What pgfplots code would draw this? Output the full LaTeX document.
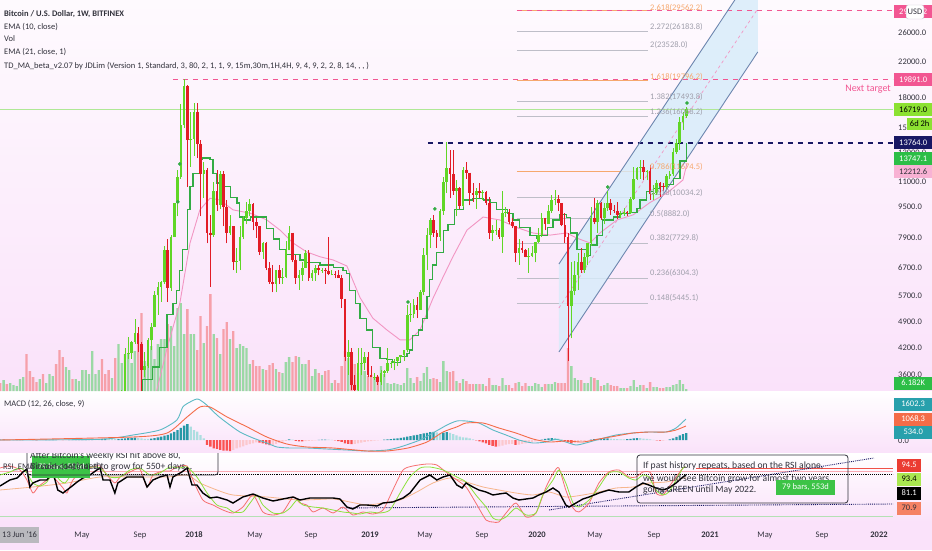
\documentclass[border=0pt]{standalone}
\usepackage{pgfplots}
\usepackage{pgfplotstable}
\pgfplotsset{compat=1.18}
\usepackage{fontspec}
\setmainfont{Carlito}

\definecolor{candup}{RGB}{96,214,38}
\definecolor{candown}{RGB}{226,28,38}
\definecolor{volup}{RGB}{155,216,165}
\definecolor{voldown}{RGB}{246,160,170}
\definecolor{stepgreen}{RGB}{50,172,68}
\definecolor{emapink}{RGB}{242,150,195}
\definecolor{chanline}{RGB}{110,135,175}
\definecolor{chanfill}{RGB}{214,236,250}
\definecolor{lvlpink}{RGB}{242,86,146}
\definecolor{lvlnavy}{RGB}{24,24,100}
\definecolor{curline}{RGB}{175,232,150}
\definecolor{fibgray}{RGB}{190,190,200}
\definecolor{fibtext}{RGB}{160,160,172}
\definecolor{fiborange}{RGB}{246,168,110}
\definecolor{macdline}{RGB}{92,186,196}
\definecolor{sigline}{RGB}{244,108,72}
\definecolor{hdark}{RGB}{38,152,166}
\definecolor{hlight}{RGB}{172,222,224}
\definecolor{hred}{RGB}{250,82,82}
\definecolor{hpink}{RGB}{252,200,206}
\definecolor{rsilime}{RGB}{140,226,60}
\definecolor{rsired}{RGB}{246,112,112}
\definecolor{rsiorange}{RGB}{246,182,140}
\definecolor{rsigreenline}{RGB}{180,225,180}
\definecolor{rsipinkline}{RGB}{250,170,180}
\definecolor{rsiredline}{RGB}{240,80,70}
\definecolor{txt}{RGB}{50,50,60}
\definecolor{bgtop}{RGB}{254,250,254}
\definecolor{bgbot}{RGB}{250,226,250}
\definecolor{boxgreen}{RGB}{44,190,70}
\definecolor{boxlime}{RGB}{140,225,50}
\definecolor{boxteal}{RGB}{40,160,172}
\definecolor{boxpink}{RGB}{248,178,212}
\definecolor{usdborder}{RGB}{200,200,210}
\definecolor{boxred}{RGB}{235,60,50}
\definecolor{boxlime2}{RGB}{170,232,80}
\definecolor{boxsalmon}{RGB}{245,130,100}
\definecolor{callgreen}{RGB}{60,195,70}
\definecolor{dategray}{RGB}{185,185,190}

\newcommand{\sz}{\fontsize{8.5}{10}\selectfont}
\newcommand{\szb}{\fontsize{9.6}{11}\selectfont}

\pgfplotsset{panel/.style={scale only axis, width=893pt, xmin=-59.1, xmax=213.0, hide axis, anchor=south west, clip=true, xtick=\empty, ytick=\empty}}

% weekly candles: week index from 2018-01-01, open high low close (USD)
\pgfplotstableread{
w o h l c
-22 2870 3300 2700 3250
-21 3250 4200 3200 4060
-20 4060 4480 3950 4090
-19 4090 4390 3950 4350
-18 4350 4980 4300 4600
-17 4600 4750 4100 4300
-16 4300 4350 3000 3700
-15 3700 4100 3550 3800
-14 3800 4450 3750 4400
-13 4400 4850 4150 4750
-12 4750 5850 4750 5700
-11 5700 6150 5100 6000
-10 6000 6200 5500 6150
-9 6150 7600 6100 7400
-8 7400 7900 5500 5950
-7 5950 8100 5850 8000
-6 8000 9750 8000 9700
-5 9700 11800 9000 11300
-4 11300 17200 11200 15300
-3 15300 19891 15000 19100
-2 19100 19200 10700 14000
-1 14000 16500 12000 14100
0 14100 17300 12800 16500
1 16500 17300 12600 13700
2 13700 14000 9000 11500
3 11500 12300 10000 11800
4 11800 11900 7700 8200
5 8200 9100 6000 8100
6 8100 11000 8000 10400
7 10400 11800 9300 9600
8 9600 11700 9400 11500
9 11500 11700 8500 9500
10 9500 9900 7700 8200
11 8200 9100 8100 8500
12 8500 8500 6600 6900
13 6900 7500 6500 6950
14 6950 8500 6600 8000
15 8000 9000 7900 8900
16 8900 9800 8600 9300
17 9300 9950 9000 9650
18 9650 9700 8300 8700
19 8700 8900 7950 8500
20 8500 8500 7200 7350
21 7350 7750 7050 7700
22 7700 7750 6600 6700
23 6700 6900 6100 6150
24 6150 6800 5800 6100
25 6100 6600 5800 6600
26 6600 6800 6100 6300
27 6300 6700 6100 6350
28 6350 7800 6300 7400
29 7400 8500 7400 8200
30 8200 8200 6900 7000
31 7000 7200 6100 6300
32 6300 6600 5900 6400
33 6400 6900 6200 6700
34 6700 7400 6700 7300
35 7300 7400 6200 6300
36 6300 6600 6200 6500
37 6500 6800 6200 6700
38 6700 6800 6400 6600
39 6600 6700 6500 6620
40 6620 6700 6100 6550
41 6550 8000 6400 6450
42 6450 6600 6400 6470
43 6470 6550 6300 6400
44 6400 6600 6300 6300
45 6300 6400 5300 5600
46 5600 5600 3900 4000
47 4000 4400 3600 4100
48 4100 4200 3300 3400
49 3400 3600 3200 3300
50 3300 4200 3250 3850
51 3850 4200 3600 3870
52 3870 4100 3700 4000
53 4000 4100 3550 3600
54 3600 3800 3550 3550
55 3550 3650 3500 3560
56 3560 3600 3400 3450
57 3450 3700 3400 3650
58 3650 3700 3550 3680
59 3680 4200 3650 3850
60 3850 3900 3750 3870
61 3870 3950 3700 3900
62 3900 4000 3800 4000
63 4000 4050 3900 4030
64 4030 4150 3900 4150
65 4150 5400 4100 5100
66 5100 5450 4900 5130
67 5130 5600 5000 5400
68 5400 5650 5000 5250
69 5250 5900 5250 5800
70 5800 7500 5700 7200
71 7200 8400 6600 8100
72 8100 8900 7500 8800
73 8800 9100 8000 8200
74 8200 8300 7500 8000
75 8000 9400 7800 9300
76 9300 11300 9100 11000
77 11000 13880 10300 11900
78 11900 13200 10000 11500
79 11500 13200 10200 10400
80 10400 11100 9000 10600
81 10600 10700 9400 9550
82 9550 12000 9500 11800
83 11800 12300 11200 11600
84 11600 11600 9600 10300
85 10300 10950 9800 10200
86 10200 10600 9400 10400
87 10400 10900 10000 10300
88 10300 10500 9900 10350
89 10350 10400 9600 9700
90 9700 10100 7900 8200
91 8200 8550 7800 8300
92 8300 8800 8100 8330
93 8330 8400 7900 8000
94 8000 10400 7300 9200
95 9200 9500 8950 9230
96 9230 9400 8600 8700
97 8700 8900 8400 8500
98 8500 8500 6900 7300
99 7300 7900 6800 7500
100 7500 7800 7300 7400
101 7400 7450 7100 7100
102 7100 7500 6500 7150
103 7150 7600 7100 7300
104 7300 7500 6900 7750
105 7750 8400 7700 8100
106 8100 9200 8000 8900
107 8900 8900 8300 8600
108 8600 9600 8600 9300
109 9300 10200 9200 9900
110 9900 10500 9600 9950
111 9950 10200 9300 9700
112 9700 9700 8500 8550
113 8550 9200 7700 8000
114 8000 8200 3900 5350
115 5350 6900 4450 5850
116 5850 6950 5700 6400
117 6400 7300 5900 6900
118 6900 7500 6500 6600
119 6600 7300 6500 7100
120 7100 7700 6800 7700
121 7700 9500 7600 8900
122 8900 10000 8600 8700
123 8700 9900 8200 9700
124 9700 9800 8800 8900
125 8900 9700 8600 9450
126 9450 10400 9300 9750
127 9750 9950 9100 9350
128 9350 9600 9200 9300
129 9300 9800 8850 9100
130 9100 9300 8900 9130
131 9130 9450 9050 9250
132 9250 9300 9050 9200
133 9200 10100 9150 9950
134 9950 12000 9900 11200
135 11200 12000 11100 11900
136 11900 12450 11200 11950
137 11950 12450 11100 11650
138 11650 11800 11100 11700
139 11700 12100 9900 10250
140 10250 10800 9900 10300
141 10300 11100 10200 10950
142 10950 11000 10100 10750
143 10750 10950 10400 10650
144 10650 11500 10550 11400
145 11400 11700 11200 11500
146 11500 13350 11400 13050
147 13050 14100 12900 13800
148 13800 15950 13200 15500
149 15500 16500 14850 16050
150 16050 16900 15900 16719
}\candles
\pgfplotstablegetrowsof{\candles}
\pgfmathtruncatemacro{\ncandles}{\pgfplotsretval-1}

% volume (bar height as read, px of pane), d=1 up / 0 down
\pgfplotstableread[row sep=\\]{w v d\\
-59 8 0\\ -58 11 1\\ -57 7 0\\ -56 8 1\\ -55 6 1\\ -54 5 1\\ -53 12 1\\ -52 14 1\\ -51 37 0\\ -50 20 0\\
-49 14 0\\ -48 9 0\\ -47 12 1\\ -46 17 0\\ -45 8 1\\ -44 17 1\\ -43 15 1\\ -42 27 0\\ -41 41 0\\ -40 34 0\\
-39 24 1\\ -38 21 1\\ -37 12 0\\ -36 12 1\\ -35 10 1\\ -34 21 1\\ -33 21 1\\ -32 17 1\\ -31 40 1\\ -30 17 1\\
-29 21 1\\ -28 32 0\\ -27 17 0\\ -26 21 0\\ -25 13 1\\ -24 33 0\\ -23 47 1\\ -22 28 1\\ -21 37 1\\ -20 37 1\\
-19 28 1\\ -18 40 1\\ -17 57 0\\ -16 78 0\\ -15 30 1\\ -14 28 1\\ -13 45 1\\ -12 32 1\\ -11 47 1\\ -10 52 1\\
-9 52 1\\ -8 67 0\\ -7 65 1\\ -6 45 1\\ -5 83 1\\ -4 88 1\\ -3 57 1\\ -2 82 0\\ -1 57 1\\ 0 57 1\\
1 41 0\\ 2 75 0\\ 3 48 1\\ 4 65 0\\ 5 97 0\\ 6 57 1\\ 7 53 0\\ 8 37 1\\ 9 62 0\\ 10 69 0\\
11 52 1\\ 12 60 0\\ 13 43 1\\ 14 47 1\\ 15 45 1\\ 16 43 1\\ 17 27 1\\ 18 31 0\\ 19 25 0\\ 20 25 0\\
21 22 1\\ 22 21 0\\ 23 26 0\\ 24 28 0\\ 25 22 1\\ 26 19 0\\ 27 18 1\\ 28 29 1\\ 29 34 1\\ 30 29 0\\
31 35 0\\ 32 34 1\\ 33 27 1\\ 34 27 1\\ 35 31 0\\ 36 15 1\\ 37 22 1\\ 38 18 0\\ 39 16 1\\ 40 20 0\\
41 21 0\\ 42 8 1\\ 43 11 0\\ 44 8 0\\ 45 25 0\\ 46 40 0\\ 47 33 1\\ 48 30 0\\ 49 27 0\\ 50 18 1\\
51 28 1\\ 52 20 1\\ 53 15 0\\ 54 16 0\\ 55 13 1\\ 56 15 0\\ 57 25 1\\ 58 17 1\\ 59 8 1\\ 60 7 1\\
61 8 1\\ 62 7 1\\ 63 6 1\\ 64 8 1\\ 65 23 1\\ 66 13 1\\ 67 8 1\\ 68 14 0\\ 69 10 1\\ 70 18 1\\
71 24 1\\ 72 12 1\\ 73 13 0\\ 74 12 0\\ 75 9 1\\ 76 30 1\\ 77 20 1\\ 78 19 0\\ 79 20 0\\ 80 10 1\\
81 8 0\\ 82 12 1\\ 83 10 0\\ 84 7 0\\ 85 7 0\\ 86 7 1\\ 87 7 0\\ 88 7 1\\ 89 5 0\\ 90 13 0\\
91 6 1\\ 92 6 1\\ 93 5 0\\ 94 13 1\\ 95 6 1\\ 96 6 0\\ 97 3 0\\ 98 8 0\\ 99 9 1\\ 100 5 0\\
101 8 0\\ 102 5 1\\ 103 5 1\\ 104 8 1\\ 105 7 1\\ 106 4 1\\ 107 7 0\\ 108 7 1\\ 109 7 1\\ 110 9 1\\
111 8 0\\ 112 8 0\\ 113 8 0\\ 114 43 0\\ 115 25 1\\ 116 13 1\\ 117 11 1\\ 118 11 0\\ 119 8 1\\ 120 8 1\\
121 14 1\\ 122 13 0\\ 123 11 1\\ 124 5 0\\ 125 6 1\\ 126 8 1\\ 127 6 0\\ 128 5 0\\ 129 5 0\\ 130 3 1\\
131 3 1\\ 132 3 0\\ 133 5 1\\ 134 11 1\\ 135 4 1\\ 136 6 1\\ 137 6 0\\ 138 3 1\\ 139 9 0\\ 140 4 1\\
141 4 1\\ 142 3 0\\ 143 3 0\\ 144 4 1\\ 145 4 1\\ 146 6 1\\ 147 7 1\\ 148 11 1\\ 149 7 1\\ 150 2 1\\
}\voltab

% TD_MA step line
\pgfplotstableread[row sep=\\]{w p\\
-24 2700\\ -18 3100\\ -15.8 3500\\ -13.4 3500\\ -12.5 3770\\ -10.4 4210\\ -8.2 5100\\ -6.4 5450\\ -5.2 5880\\ -4.3 6600\\
-3.4 7420\\ -2.1 9350\\ -1.2 10700\\ -0.3 11540\\ 1.8 12480\\ 2.7 12620\\ 4.9 12480\\ 5.8 11540\\ 7.0 10920\\ 8.8 10700\\
11.0 10050\\ 13.1 9730\\ 14.0 8970\\ 15.5 8820\\ 17.1 8970\\ 20.1 8970\\ 22.2 8400\\ 24.1 7900\\ 26.2 7420\\ 28.3 7220\\
30.2 7220\\ 32.3 7000\\ 34.4 6900\\ 36.3 6900\\ 38.4 6800\\ 42.4 6700\\ 45.4 6570\\ 46.6 6480\\ 47.5 5880\\ 49.1 5450\\
50.6 5000\\ 52.7 4670\\ 54.5 4210\\ 56.7 3960\\ 58.8 3930\\ 60.6 3880\\ 62.8 4000\\ 64.9 4080\\ 65.8 4160\\ 66.7 4530\\
68.3 4670\\ 69.5 5000\\ 71.0 5660\\ 71.9 6240\\ 72.8 6800\\ 74.0 7300\\ 75.9 8320\\ 77.4 8610\\ 79.5 9350\\ 82.0 9900\\
83.2 9900\\ 85.0 10000\\ 88.1 9900\\ 90.2 9760\\ 92.3 9350\\ 95.4 9170\\ 97.2 8820\\ 99.3 8440\\ 102.4 8080\\ 104.5 7940\\
105.4 8080\\ 107.6 8440\\ 109.4 8820\\ 111.5 9080\\ 113.6 8950\\ 114.6 8180\\ 116.7 7420\\ 119.7 7200\\ 120.7 7630\\ 122.8 8080\\
124.6 8820\\ 127.7 8970\\ 129.8 9170\\ 132.8 9200\\ 135.0 9400\\ 135.9 9900\\ 138.0 10400\\ 139.9 10600\\ 142.0 10700\\ 144.1 10800\\
146.0 11200\\ 148.1 12400\\ 150.2 13747\\
}\steptab

% EMA 21
\pgfplotstableread[row sep=\\]{w p\\
-14 2900\\ -11.3 3300\\ -8.2 4200\\ -4.3 5450\\ -1.2 7720\\ 1.8 9350\\ 4.9 10000\\ 7.9 9900\\ 11.9 9350\\ 17.1 9170\\
20.1 8970\\ 22.2 8820\\ 26.2 8320\\ 30.2 7720\\ 34.4 7330\\ 38.4 7130\\ 42.4 7000\\ 46.6 6760\\ 50.6 5630\\ 54.5 5000\\
58.8 4670\\ 62.8 4410\\ 65.8 4410\\ 68.9 4670\\ 72.8 5600\\ 75.9 6340\\ 78.9 7130\\ 83.2 8320\\ 88.1 8970\\ 93.2 8820\\
98.4 8440\\ 103.3 8180\\ 108.5 8080\\ 113.6 8180\\ 116.7 7940\\ 120.7 7720\\ 123.7 8180\\ 128.9 8820\\ 133.8 9080\\ 138.9 9750\\
144.1 10300\\ 149.0 11110\\ 150.2 12212\\
}\ematab

% MACD
\pgfplotstableread[row sep=\\]{w m\\
-59.1 0\\ -28.6 53\\ -18.6 380\\ -10.4 763\\ -5.2 1526\\ -3.4 2518\\ -1.2 2900\\ 1.2 3128\\ 3.9 2670\\ 7.0 1908\\
10.1 1297\\ 14.0 610\\ 18.0 153\\ 22.2 -229\\ 25.3 -534\\ 29.3 -610\\ 34.4 -610\\ 40.5 -687\\ 46.6 -763\\ 52.7 -839\\
58.8 -763\\ 62.8 -534\\ 68.9 0\\ 72.8 534\\ 77.1 1145\\ 80.1 1450\\ 82.9 1450\\ 86.8 1297\\ 91.1 763\\ 95.1 380\\
99.0 0\\ 103.3 -229\\ 107.3 -153\\ 110.3 53\\ 113.3 -153\\ 116.4 -382\\ 119.4 -229\\ 123.4 53\\ 128.6 380\\ 133.8 534\\
138.6 610\\ 143.8 610\\ 146.9 916\\ 149.9 1602\\
}\macdtab
\pgfplotstableread[row sep=\\]{w s\\
-59.1 0\\ -18.6 229\\ -8.2 534\\ -2.1 1756\\ 1.8 2518\\ 4.9 2518\\ 10.1 1756\\ 16.2 1000\\ 22.2 229\\ 28.3 -305\\
34.4 -534\\ 42.4 -610\\ 52.7 -839\\ 58.8 -839\\ 65.2 -610\\ 71.0 -153\\ 75.9 610\\ 80.1 1000\\ 82.9 1297\\ 88.1 1297\\
92.9 916\\ 98.1 534\\ 103.3 76\\ 108.2 -153\\ 113.3 -76\\ 118.5 -153\\ 123.4 76\\ 128.6 305\\ 133.8 534\\ 138.6 610\\
143.8 610\\ 146.9 763\\ 149.9 1068\\
}\sigtab
% histogram: c=1 rising positive, 2 falling positive, 3 falling negative, 4 rising negative
\pgfplotstableread[row sep=\\]{w h c\\
-59 20 1\\ -58 25 1\\ -57 15 2\\ -56 10 2\\ -55 15 1\\ -54 25 1\\ -53 35 1\\ -52 40 1\\ -51 25 2\\ -50 10 2\\
-49 -10 3\\ -48 -20 3\\ -47 -15 4\\ -46 -10 4\\ -45 5 1\\ -44 15 1\\ -43 25 1\\ -42 20 2\\ -41 5 2\\ -40 -10 3\\
-39 -5 4\\ -38 10 1\\ -37 20 1\\ -36 30 1\\ -35 40 1\\ -34 50 1\\ -33 60 1\\ -32 70 1\\ -31 80 1\\ -30 75 2\\
-29 70 2\\ -28 80 1\\ -27 100 1\\ -26 90 2\\ -25 70 2\\ -24 60 2\\ -23 80 1\\ -22 100 1\\ -21 130 1\\ -20 150 1\\
-19 170 1\\ -18 190 1\\ -17 170 2\\ -16 120 2\\ -15 90 2\\ -14 80 2\\ -13 100 1\\ -12 150 1\\ -11 200 1\\ -10 260 1\\
-9 330 1\\ -8 400 1\\ -7 500 1\\ -6 620 1\\ -5 760 1\\ -4 920 1\\ -3 1100 1\\ -2 1220 1\\ -1 1016 2\\ 0 760 2\\
1 635 2\\ 2 380 2\\ 3 127 2\\ 4 -380 3\\ 5 -508 3\\ 6 -635 3\\ 7 -685 3\\ 8 -760 3\\ 9 -810 3\\ 10 -810 3\\
11 -840 3\\ 12 -760 4\\ 13 -635 4\\ 14 -560 4\\ 15 -480 4\\ 16 -400 4\\ 17 -320 4\\ 18 -250 4\\ 19 -180 4\\ 20 -200 3\\
21 -260 3\\ 22 -330 3\\ 23 -400 3\\ 24 -380 4\\ 25 -300 4\\ 26 -220 4\\ 27 -130 4\\ 28 -60 4\\ 29 40 1\\ 30 20 2\\
31 -60 3\\ 32 -100 3\\ 33 -110 3\\ 34 -80 4\\ 35 -60 4\\ 36 -40 4\\ 37 -20 4\\ 38 10 1\\ 39 20 1\\ 40 30 1\\
41 20 2\\ 42 10 2\\ 43 -20 3\\ 44 -80 3\\ 45 -150 3\\ 46 -250 3\\ 47 -300 3\\ 48 -320 3\\ 49 -300 4\\ 50 -250 4\\
51 -200 4\\ 52 -150 4\\ 53 -110 4\\ 54 -80 4\\ 55 -50 4\\ 56 -30 4\\ 57 -10 4\\ 58 30 1\\ 59 50 1\\ 60 70 1\\
61 100 1\\ 62 130 1\\ 63 160 1\\ 64 200 1\\ 65 250 1\\ 66 300 1\\ 67 350 1\\ 68 400 1\\ 69 450 1\\ 70 500 1\\
71 550 1\\ 72 600 1\\ 73 620 1\\ 74 580 2\\ 75 520 2\\ 76 560 1\\ 77 600 1\\ 78 540 2\\ 79 450 2\\ 80 350 2\\
81 250 2\\ 82 200 2\\ 83 180 2\\ 84 120 2\\ 85 50 2\\ 86 -30 3\\ 87 -100 3\\ 88 -180 3\\ 89 -250 3\\ 90 -380 3\\
91 -450 3\\ 92 -500 3\\ 93 -480 4\\ 94 -420 4\\ 95 -350 4\\ 96 -320 4\\ 97 -300 4\\ 98 -380 3\\ 99 -350 4\\ 100 -300 4\\
101 -250 4\\ 102 -200 4\\ 103 -150 4\\ 104 -100 4\\ 105 -50 4\\ 106 30 1\\ 107 80 1\\ 108 120 1\\ 109 150 1\\ 110 140 2\\
111 100 2\\ 112 50 2\\ 113 -60 3\\ 114 -180 3\\ 115 -250 3\\ 116 -200 4\\ 117 -150 4\\ 118 -100 4\\ 119 -60 4\\ 120 -20 4\\
121 30 1\\ 122 60 1\\ 123 90 1\\ 124 110 1\\ 125 120 1\\ 126 130 1\\ 127 110 2\\ 128 90 2\\ 129 70 2\\ 130 50 2\\
131 40 2\\ 132 60 1\\ 133 90 1\\ 134 120 1\\ 135 150 1\\ 136 140 2\\ 137 110 2\\ 138 80 2\\ 139 40 2\\ 140 10 2\\
141 -20 3\\ 142 -50 3\\ 143 -40 4\\ 144 -10 4\\ 145 50 1\\ 146 130 1\\ 147 230 1\\ 148 350 1\\ 149 450 1\\ 150 534 1\\
}\histtab

% RSI pane lines (pane units, 0 = bottom of pane)
\pgfplotstableread[row sep=\\]{w v\\
-59.1 36\\ -56.1 42\\ -53.9 44\\ -52.1 50\\ -50.9 53\\ -50.0 35\\ -49.1 39\\ -46.9 42\\ -44.8 42\\ -43.0 50\\
-41.5 32\\ -39.9 29\\ -37.5 35\\ -35.6 40\\ -33.8 44\\ -31.7 47\\ -29.6 52\\ -28.6 54\\ -27.7 42\\ -25.6 42\\
-24.1 29\\ -23.2 39\\ -20.4 45\\ -18.6 45\\ -15.5 45\\ -14.3 35\\ -12.5 42\\ -10.4 45\\ -8.2 47\\ -7.3 35\\
-6.4 45\\ -3.7 50\\ -2.1 54\\ -0.6 37\\ 0.9 37\\ 2.7 29\\ 4.9 24\\ 7.0 25\\ 10.1 22\\ 11.9 19\\
14.9 25\\ 18.0 28\\ 21.0 24\\ 24.1 21\\ 27.1 23\\ 30.2 25\\ 32.3 22\\ 35.3 24\\ 38.4 24\\ 42.4 24\\
44.5 23\\ 46.6 15\\ 48.4 13\\ 50.6 17\\ 52.7 17\\ 55.8 16\\ 57.6 19\\ 60.6 20\\ 63.7 24\\ 65.8 29\\
68.9 42\\ 71.9 47\\ 74.0 42\\ 75.9 45\\ 78.0 47\\ 80.1 37\\ 81.7 34\\ 82.9 39\\ 85.0 35\\ 86.8 32\\
89.0 30\\ 91.1 27\\ 92.9 28\\ 95.1 29\\ 97.2 24\\ 99.0 22\\ 101.2 23\\ 103.3 24\\ 105.1 27\\ 107.3 30\\
109.4 34\\ 111.2 30\\ 113.3 17\\ 114.3 15\\ 116.4 19\\ 118.5 23\\ 120.4 25\\ 123.4 29\\ 126.4 32\\ 129.5 30\\
132.5 30\\ 134.7 35\\ 136.8 39\\ 138.6 37\\ 140.8 34\\ 142.9 32\\ 144.7 34\\ 146.9 39\\ 149.0 45\\ 149.9 47\\
}\rsiblack
\pgfplotstableread[row sep=\\]{w v\\
-59.1 47\\ -56.1 50\\ -53.0 54\\ -50.9 49\\ -49.1 39\\ -46.9 36\\ -44.8 40\\ -43.0 49\\ -40.9 42\\ -39.3 39\\
-36.9 49\\ -33.8 54\\ -30.8 55\\ -28.6 54\\ -25.6 45\\ -22.5 45\\ -19.5 52\\ -16.5 54\\ -13.4 47\\ -10.4 49\\
-7.3 55\\ -4.3 54\\ -2.1 55\\ 0.9 45\\ 4.0 29\\ 7.0 17\\ 10.1 14\\ 11.9 10\\ 14.9 10\\ 17.1 19\\
19.2 27\\ 21.0 17\\ 24.1 9\\ 27.1 9\\ 29.3 14\\ 31.4 22\\ 33.2 17\\ 36.3 15\\ 39.3 14\\ 42.4 12\\
45.4 10\\ 48.4 9\\ 50.6 8\\ 53.6 10\\ 56.7 9\\ 59.7 12\\ 62.8 29\\ 65.8 45\\ 68.9 54\\ 71.9 55\\
75.9 52\\ 80.1 45\\ 82.9 40\\ 85.9 27\\ 89.0 15\\ 91.1 4\\ 92.9 2\\ 95.1 5\\ 98.1 14\\ 101.2 7\\
104.2 9\\ 106.3 27\\ 109.4 42\\ 111.2 52\\ 113.3 39\\ 115.5 19\\ 117.3 15\\ 120.4 22\\ 123.4 35\\ 126.4 49\\
129.5 50\\ 132.5 44\\ 134.7 42\\ 136.8 47\\ 138.6 45\\ 140.8 32\\ 142.9 27\\ 144.7 30\\ 146.9 42\\ 149.0 54\\
149.9 55\\
}\rsilimetab
\pgfplotstableread[row sep=\\]{w v\\
-59.1 54\\ -56.1 56\\ -53.0 52\\ -50.9 42\\ -49.1 29\\ -47.5 35\\ -44.8 42\\ -43.0 45\\ -39.9 34\\ -38.7 29\\
-36.9 42\\ -33.8 52\\ -30.8 55\\ -28.6 56\\ -26.5 47\\ -24.1 39\\ -22.5 45\\ -19.5 50\\ -16.5 53\\ -14.3 35\\
-12.5 47\\ -9.4 51\\ -7.3 51\\ -5.2 55\\ -2.1 56\\ -0.3 42\\ 2.7 22\\ 5.8 17\\ 8.8 12\\ 11.9 9\\
14.9 15\\ 18.0 27\\ 21.0 10\\ 24.1 7\\ 27.1 10\\ 30.2 25\\ 32.3 19\\ 34.4 17\\ 36.3 10\\ 39.3 14\\
42.4 9\\ 45.4 15\\ 48.4 7\\ 51.5 10\\ 54.5 8\\ 57.6 12\\ 60.6 32\\ 63.7 52\\ 66.7 56\\ 71.0 58\\
74.0 57\\ 77.1 49\\ 80.1 42\\ 82.9 35\\ 85.9 19\\ 89.0 2\\ 91.1 0\\ 92.9 0\\ 95.1 9\\ 98.1 19\\
101.2 5\\ 104.2 9\\ 107.3 35\\ 109.7 50\\ 111.2 54\\ 113.3 32\\ 115.5 14\\ 117.3 10\\ 120.4 19\\ 123.4 39\\
126.4 50\\ 129.5 52\\ 132.5 45\\ 134.7 45\\ 136.8 50\\ 139.2 49\\ 140.8 29\\ 142.9 27\\ 144.7 35\\ 146.9 45\\
149.0 54\\ 149.9 55\\
}\rsiredtab
\pgfplotstableread[row sep=\\]{w v\\
-59.1 32\\ -49.1 35\\ -38.7 39\\ -28.6 45\\ -18.6 45\\ -8.2 45\\ -2.1 47\\ 1.8 39\\ 7.0 32\\ 11.9 27\\
22.2 25\\ 32.3 22\\ 42.4 23\\ 47.5 20\\ 52.7 17\\ 57.6 19\\ 62.8 22\\ 67.9 30\\ 72.8 39\\ 78.0 44\\
82.9 40\\ 88.1 35\\ 92.9 32\\ 98.1 29\\ 103.3 27\\ 108.2 30\\ 113.3 25\\ 118.5 27\\ 123.4 30\\ 128.6 34\\
133.8 35\\ 138.6 39\\ 143.8 40\\ 149.0 44\\ 149.9 44\\
}\rsiorangetab

\begin{document}
\begin{tikzpicture}
% pane backgrounds
\begin{scope}[x=1pt,y=1pt]
\shade[top color=bgtop, bottom color=bgbot] (0,159) rectangle (932,550);
\shade[top color=white, bottom color=bgbot] (0,97) rectangle (932,159);
\shade[top color=white, bottom color=bgbot] (0,28) rectangle (932,97);
\fill[bgbot] (0,0) rectangle (932,28);
\end{scope}

% ---- volume (bottom of price pane)
\begin{axis}[panel, at={(0pt,159pt)}, height=391pt, ymin=0, ymax=391]
\addplot[ybar, bar width=2.3pt, bar shift=0pt, fill=volup, draw=none,
  restrict expr to domain={\thisrow{d}}{0.5:1.5}] table[x=w,y=v]{\voltab};
\addplot[ybar, bar width=2.3pt, bar shift=0pt, fill=voldown, draw=none,
  restrict expr to domain={\thisrow{d}}{-0.5:0.5}] table[x=w,y=v]{\voltab};
\end{axis}

% ---- price pane: levels, channel, averages
\begin{axis}[panel, at={(0pt,159pt)}, height=391pt, ymode=log, ymin=3282, ymax=31455]
\addplot[fiborange, line width=0.5pt] coordinates {(98.4,29562.2) (138.3,29562.2)};
\addplot[fibgray, line width=0.5pt] coordinates {(98.4,26183.8) (138.3,26183.8)};
\addplot[fibgray, line width=0.5pt] coordinates {(98.4,23528.0) (138.3,23528.0)};
\addplot[fiborange, line width=0.5pt] coordinates {(98.4,19796.2) (138.3,19796.2)};
\addplot[fibgray, line width=0.5pt] coordinates {(98.4,17493.8) (138.3,17493.8)};
\addplot[fibgray, line width=0.5pt] coordinates {(98.4,16068.2) (138.3,16068.2)};
\addplot[fiborange, line width=0.5pt] coordinates {(98.4,11674.5) (138.3,11674.5)};
\addplot[fibgray, line width=0.5pt] coordinates {(98.4,10034.2) (138.3,10034.2)};
\addplot[fibgray, line width=0.5pt] coordinates {(98.4,8882.0) (138.3,8882.0)};
\addplot[fibgray, line width=0.5pt] coordinates {(98.4,7729.8) (138.3,7729.8)};
\addplot[fibgray, line width=0.5pt] coordinates {(98.4,6304.3) (138.3,6304.3)};
\addplot[fibgray, line width=0.5pt] coordinates {(98.4,5445.1) (138.3,5445.1)};
\addplot[fill=chanfill, fill opacity=0.8, draw=none] coordinates {(111.2,4112) (111.2,6836) (171.8,38370) (171.8,23290) (111.2,4112)};
\addplot[curline, line width=0.6pt] coordinates {(-59.1,16719) (213,16719)};
\addplot[lvlpink, line width=1.3pt, dash pattern=on 5pt off 5pt] coordinates {(98.4,29562.2) (213,29562.2)};
\addplot[lvlpink, line width=1.3pt, dash pattern=on 5pt off 5pt] coordinates {(-6.4,19891) (213,19891)};
\addplot[lvlnavy, line width=1.3pt, dash pattern=on 5pt off 5pt] coordinates {(71.3,13764) (213,13764)};
\addplot[chanline, line width=0.9pt] coordinates {(111.2,6836) (171.8,38370)};
\addplot[chanline, line width=0.9pt] coordinates {(111.2,4112) (171.8,23290)};
\addplot[emapink, line width=0.7pt, dash pattern=on 3pt off 3pt] coordinates {(111.2,5302) (171.8,29890)};
\addplot[emapink, line width=0.9pt] table[x=w,y=p]{\ematab};
\addplot[stepgreen, line width=1.1pt, const plot] table[x=w,y=p]{\steptab};
\end{axis}

% ---- price pane: candles
\begin{axis}[panel, at={(0pt,159pt)}, height=391pt, ymode=log, ymin=3282, ymax=31455]
\pgfplotsforeachungrouped \i in {0,...,\ncandles}{%
  \pgfplotstablegetelem{\i}{w}\of\candles \edef\cw{\pgfplotsretval}%
  \pgfplotstablegetelem{\i}{o}\of\candles \edef\co{\pgfplotsretval}%
  \pgfplotstablegetelem{\i}{h}\of\candles \edef\ch{\pgfplotsretval}%
  \pgfplotstablegetelem{\i}{l}\of\candles \edef\cl{\pgfplotsretval}%
  \pgfplotstablegetelem{\i}{c}\of\candles \edef\cc{\pgfplotsretval}%
  \ifnum\cc<\co\relax \def\ccol{candown}\else\def\ccol{candup}\fi
  \edef\tmp{%
    \noexpand\addplot[\ccol, line width=0.7pt, forget plot] coordinates {(\cw,\cl) (\cw,\ch)};%
    \noexpand\addplot[\ccol, line width=2.6pt, forget plot] coordinates {(\cw,\co) (\cw,\cc)};%
  }\tmp
}
\addplot[only marks, mark=*, mark size=1.6pt, color=stepgreen] coordinates {(-4.3,12190) (-4.9,9790) (65.2,5490) (73.4,9400) (126.1,10670) (150.2,17340)};
\end{axis}

% ---- MACD pane
\begin{axis}[panel, at={(0pt,97pt)}, height=62pt, ymin=-992, ymax=3739]
\addplot[ybar, bar width=2.3pt, bar shift=0pt, fill=hdark, draw=none, restrict expr to domain={\thisrow{c}}{0.5:1.5}] table[x=w,y=h]{\histtab};
\addplot[ybar, bar width=2.3pt, bar shift=0pt, fill=hlight, draw=none, restrict expr to domain={\thisrow{c}}{1.5:2.5}] table[x=w,y=h]{\histtab};
\addplot[ybar, bar width=2.3pt, bar shift=0pt, fill=hred, draw=none, restrict expr to domain={\thisrow{c}}{2.5:3.5}] table[x=w,y=h]{\histtab};
\addplot[ybar, bar width=2.3pt, bar shift=0pt, fill=hpink, draw=none, restrict expr to domain={\thisrow{c}}{3.5:4.5}] table[x=w,y=h]{\histtab};
\addplot[macdline, line width=0.9pt, smooth, tension=0.4] table[x=w,y=m]{\macdtab};
\addplot[sigline, line width=0.9pt, smooth, tension=0.4] table[x=w,y=s]{\sigtab};
\end{axis}

% ---- RSI pane
\begin{axis}[panel, at={(0pt,28pt)}, height=69pt, ymin=0, ymax=69]
\addplot[rsigreenline, line width=0.7pt] coordinates {(-59.1,6) (213,6)};
\addplot[rsipinkline, line width=0.7pt] coordinates {(-59.1,51) (213,51)};
\addplot[black, line width=0.9pt, densely dotted] coordinates {(-59.1,48) (213,48)};
\addplot[rsiredline, line width=0.9pt] coordinates {(153,54) (213,54)};
\addplot[lvlnavy, line width=0.9pt, densely dotted] coordinates {(44.5,14) (213,18)};
\addplot[lvlnavy, line width=0.9pt, densely dotted] coordinates {(108.2,12) (207.2,64)};
\addplot[rsiorange, line width=0.8pt, smooth, tension=0.4] table[x=w,y=v]{\rsiorangetab};
\addplot[rsired, line width=0.8pt, smooth, tension=0.4] table[x=w,y=v]{\rsiredtab};
\addplot[rsilime, line width=0.8pt, smooth, tension=0.4] table[x=w,y=v]{\rsilimetab};
\addplot[black, line width=1.4pt] table[x=w,y=v]{\rsiblack};
\end{axis}

\begin{scope}[x=1pt,y=1pt]
% legend text top-left
\node[anchor=west, text=txt, font=\sz\bfseries, inner sep=0pt] at (4,536) {Bitcoin / U.S. Dollar, 1W, BITFINEX};
\node[anchor=west, text=txt, font=\sz, inner sep=0pt] at (4,523) {EMA (10, close)};
\node[anchor=west, text=txt, font=\sz, inner sep=0pt] at (4,511) {Vol};
\node[anchor=west, text=txt, font=\sz, inner sep=0pt] at (4,498) {EMA (21, close, 1)};
\node[anchor=west, text=txt, font=\sz, inner sep=0pt] at (4,484) {TD\_MA\_beta\_v2.07 by JDLim (Version 1, Standard, 3, 80, 2, 1, 1, 9, 15m,30m,1H,4H, 9, 4, 9, 2, 2, 8, 14, , , )};

% fib labels
\node[anchor=west, font=\sz, inner sep=0pt, text=fiborange] at (650,542) {2.618(29562.2)};
\node[anchor=west, font=\sz, inner sep=0pt, text=fibtext] at (650,523) {2.272(26183.8)};
\node[anchor=west, font=\sz, inner sep=0pt, text=fibtext] at (650,505) {2(23528.0)};
\node[anchor=west, font=\sz, inner sep=0pt, text=fiborange] at (650,473) {1.618(19796.2)};
\node[anchor=west, font=\sz, inner sep=0pt, text=fibtext] at (650,453) {1.382(17493.8)};
\node[anchor=west, font=\sz, inner sep=0pt, text=fibtext] at (650,438) {1.236(16068.2)};
\node[anchor=west, font=\sz, inner sep=0pt, text=fiborange] at (650,383) {0.786(11674.5)};
\node[anchor=west, font=\sz, inner sep=0pt, text=fibtext] at (650,357) {0.618(10034.2)};
\node[anchor=west, font=\sz, inner sep=0pt, text=fibtext] at (650,336) {0.5(8882.0)};
\node[anchor=west, font=\sz, inner sep=0pt, text=fibtext] at (650,312) {0.382(7729.8)};
\node[anchor=west, font=\sz, inner sep=0pt, text=fibtext] at (650,277) {0.236(6304.3)};
\node[anchor=west, font=\sz, inner sep=0pt, text=fibtext] at (650,252) {0.148(5445.1)};
\node[anchor=east, text=lvlpink, font=\fontsize{10}{12}\selectfont, inner sep=0pt] at (891,461) {Next target};

% right price scale labels
\node[anchor=west, font=\sz, text=txt, inner sep=0pt] at (898,517) {26000.0};
\node[anchor=west, font=\sz, text=txt, inner sep=0pt] at (898,488) {22000.0};
\node[anchor=west, font=\sz, text=txt, inner sep=0pt] at (898,452) {18000.0};
\node[anchor=west, font=\sz, text=txt, inner sep=0pt] at (898,422) {15000.0};
\node[anchor=west, font=\sz, text=txt, inner sep=0pt] at (898,397) {13000.0};
\node[anchor=west, font=\sz, text=txt, inner sep=0pt] at (898,368) {11000.0};
\node[anchor=west, font=\sz, text=txt, inner sep=0pt] at (898,343) {9500.0};
\node[anchor=west, font=\sz, text=txt, inner sep=0pt] at (898,312) {7900.0};
\node[anchor=west, font=\sz, text=txt, inner sep=0pt] at (898,282) {6700.0};
\node[anchor=west, font=\sz, text=txt, inner sep=0pt] at (898,254) {5700.0};
\node[anchor=west, font=\sz, text=txt, inner sep=0pt] at (898,228) {4900.0};
\node[anchor=west, font=\sz, text=txt, inner sep=0pt] at (898,202) {4200.0};
\node[anchor=west, font=\sz, text=txt, inner sep=0pt] at (898,175) {3600.0};
\node[anchor=west, font=\sz, text=txt, inner sep=0pt] at (898,109) {0.0};

% value boxes
\node[anchor=west, font=\sz, inner sep=1pt, minimum width=38pt, minimum height=13pt, fill=lvlpink, text=white] at (894,538) {29562.2};
\node[anchor=west, font=\sz, inner sep=1pt, minimum width=38pt, minimum height=13pt, fill=lvlpink, text=white] at (894,470) {19891.0};
\node[anchor=west, font=\sz, inner sep=1pt, minimum width=38pt, minimum height=13pt, fill=boxlime, text=black] at (894,440) {16719.0};
\node[anchor=west, font=\sz, inner sep=1pt, minimum width=38pt, minimum height=13pt, fill=lvlnavy, text=white] at (894,407) {13764.0};
\node[anchor=west, font=\sz, inner sep=1pt, minimum width=38pt, minimum height=13pt, fill=boxgreen, text=white] at (894,391) {13747.1};
\node[anchor=west, font=\sz, inner sep=1pt, minimum width=38pt, minimum height=13pt, fill=boxpink, text=txt] at (894,378) {12212.6};
\node[anchor=west, font=\sz, inner sep=1pt, minimum width=38pt, minimum height=13pt, fill=boxgreen, text=white] at (894,167) {6.182K};
\node[anchor=west, font=\sz, inner sep=1pt, minimum width=38pt, minimum height=13pt, fill=boxteal, text=white] at (894,146) {1602.3};
\node[anchor=west, font=\sz, inner sep=1pt, minimum width=38pt, minimum height=13pt, fill=sigline, text=white] at (894,131) {1068.3};
\node[anchor=west, font=\sz, inner sep=1pt, minimum width=38pt, minimum height=13pt, fill=boxteal, text=white] at (894,118) {534.0};
\node[anchor=west, fill=boxlime, text=black, font=\sz, inner sep=1pt, minimum width=25pt, minimum height=12pt] at (907,426) {6d 2h};
\node[fill=white, draw=usdborder, rounded corners=2pt, text=txt, font=\sz, inner sep=1.5pt, minimum height=14pt] at (915,538) {USD};
\node[anchor=west, font=\sz, inner sep=1pt, minimum width=24pt, minimum height=13pt, fill=boxred, text=white] at (897,85) {94.5};
\node[anchor=west, font=\sz, inner sep=1pt, minimum width=24pt, minimum height=13pt, fill=boxlime2, text=black] at (897,71) {93.4};
\node[anchor=west, font=\sz, inner sep=1pt, minimum width=24pt, minimum height=13pt, fill=black, text=white] at (897,57) {81.1};
\node[anchor=west, font=\sz, inner sep=1pt, minimum width=24pt, minimum height=13pt, fill=boxsalmon, text=txt] at (897,42) {70.9};

% pane titles
\node[anchor=west, text=txt, font=\sz, inner sep=0pt] at (4,146) {MACD (12, 26, close, 9)};

% RSI callouts
\begin{scope}
\clip (0,28) rectangle (893,97);
\node[anchor=west, fill=callgreen, text=white, font=\sz, inner sep=1pt, minimum width=58pt, minimum height=22pt] at (32,83) {79 bars, 553d};
\draw[rounded corners=3pt, txt, line width=0.8pt] (27,110) rectangle (218,75);
\node[anchor=west, text=txt, font=\szb, inner sep=0pt] at (30,94) {After Bitcoin's weekly RSI hit above 80,};
\node[anchor=west, text=txt, font=\szb, inner sep=0pt] at (30,83) {Bitcoin continued to grow for 550+ days...};
\node[anchor=west, text=txt, font=\sz, inner sep=0pt] at (3,83) {RSI\_EMA's stoch (14) (14) 10};
\end{scope}
\draw[rounded corners=3pt, txt, line width=0.8pt] (637,95) rectangle (848,47);
\node[anchor=west, text=txt, font=\szb, inner sep=0pt] at (643,84) {If past history repeats, based on the RSI alone,};
\node[anchor=west, text=txt, font=\szb, inner sep=0pt] at (643,71) {we would see Bitcoin grow for almost two years,};
\node[anchor=west, text=txt, font=\szb, inner sep=0pt] at (643,60) {going GREEN until May 2022.};
\node[fill=callgreen, text=white, font=\sz, inner sep=1pt, minimum width=59pt, minimum height=15pt] at (805.5,62.5) {79 bars, 553d};

% date axis
\node[font=\sz, text=txt, inner sep=0pt] at (82,15) {May};
\node[font=\sz, text=txt, inner sep=0pt] at (140,15) {Sep};
\node[font=\sz\bfseries, text=txt, inner sep=0pt] at (194,15) {2018};
\node[font=\sz, text=txt, inner sep=0pt] at (255,15) {May};
\node[font=\sz, text=txt, inner sep=0pt] at (311,15) {Sep};
\node[font=\sz\bfseries, text=txt, inner sep=0pt] at (370,15) {2019};
\node[font=\sz, text=txt, inner sep=0pt] at (425,15) {May};
\node[font=\sz, text=txt, inner sep=0pt] at (482,15) {Sep};
\node[font=\sz\bfseries, text=txt, inner sep=0pt] at (537,15) {2020};
\node[font=\sz, text=txt, inner sep=0pt] at (595,15) {May};
\node[font=\sz, text=txt, inner sep=0pt] at (654,15) {Sep};
\node[font=\sz\bfseries, text=txt, inner sep=0pt] at (710,15) {2021};
\node[font=\sz, text=txt, inner sep=0pt] at (765,15) {May};
\node[font=\sz, text=txt, inner sep=0pt] at (822,15) {Sep};
\node[font=\sz\bfseries, text=txt, inner sep=0pt] at (879,15) {2022};
\node[anchor=west, fill=dategray, text=txt, font=\sz, inner sep=2pt, minimum height=16pt] at (0,15) {13 Jun '16};
\end{scope}

\pgfresetboundingbox
\path[use as bounding box] (0pt,0pt) rectangle (932pt,550pt);
\end{tikzpicture}
\end{document}
